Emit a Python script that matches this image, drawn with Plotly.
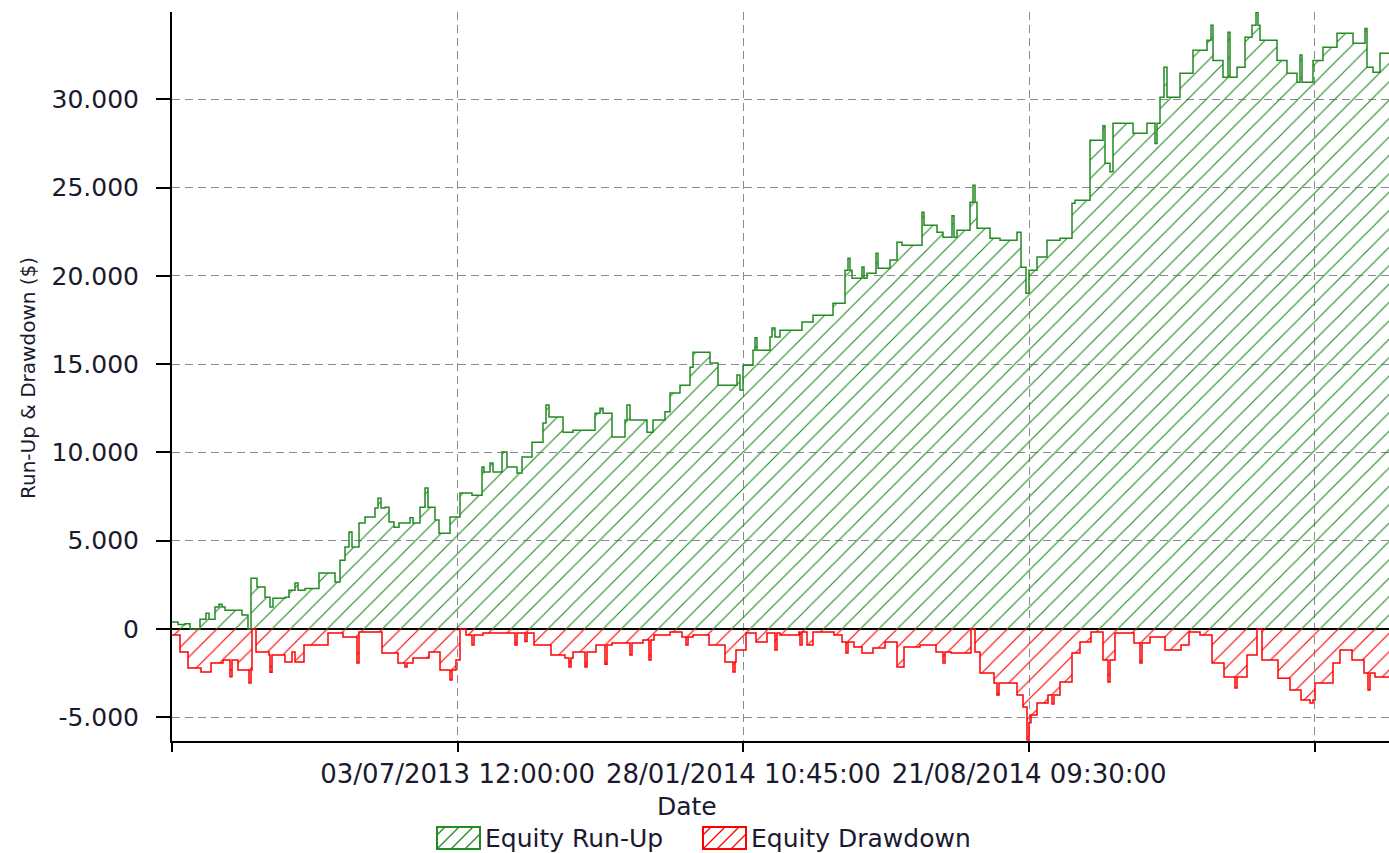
import plotly.graph_objects as go

# ---- data (x = bar index, y = $) ----
runup_bar = [0, 42, 91, 126, 196, 238, 259, 301, 329, 350, 371, 490, 532, 553, 595, 651, 686, 707, 791, 819,
             861, 882, 931, 1029, 1141, 1176, 1211, 1239, 1260, 1309, 1351, 1421, 1442, 1463, 1491, 1519, 1554,
             1589, 1666, 1687, 1736, 1771, 1792, 1841, 1869, 1946, 2016, 2100, 2170, 2184, 2226, 2247, 2310, 2345,
             2415, 2450, 2520, 2597, 2618, 2639, 2737, 2807, 2961, 2996, 3017, 3080, 3171, 3185, 3206, 3325, 3367,
             3451, 3486, 3556, 3626, 3647, 3766, 3822, 3955, 3976, 3997, 4067, 4081, 4095, 4186, 4200, 4221, 4256,
             4410, 4487, 4627, 4711, 4732, 4746, 4760, 4830, 4844, 4865, 4928, 4942, 5026, 5075, 5110, 5250, 5264,
             5355, 5397, 5460, 5474, 5495, 5586, 5607, 5621, 5635, 5726, 5796, 5915, 5943, 5978, 5999, 6055, 6125,
             6216, 6300, 6321, 6426, 6517, 6531, 6566, 6587, 6727, 6825, 6881, 6895, 6916, 6944, 6965, 7056, 7147,
             7245, 7273, 7287, 7357, 7392, 7406, 7455, 7511, 7560, 7588, 7602, 7616, 7735, 7805, 7875, 7896, 7910,
             7987, 8057, 8155, 8267, 8351, 8365, 8407, 8456, 8519]
runup_val = [400, 250, 300, 0, 560, 900, 560, 1250, 1400, 1250, 1070, 800, 0, 2880, 2380, 1800, 1250, 1750, 1800,
             2200, 2600, 2200, 2300, 3170, 2660, 3900, 4640, 5490, 4640, 6000, 6340, 6850, 7400, 6850, 6900, 6060,
             5770, 6000, 6300, 6000, 6900, 7980, 6900, 6170, 5430, 6340, 7700, 7580, 9170, 8890, 9400, 8890, 10020,
             9170, 8830, 9740, 10580, 11660, 12680, 12000, 11150, 11260, 12220, 12500, 12220, 10870, 11830, 12680,
             11830, 11150, 11830, 12300, 13360, 13810, 14830, 15680, 15060, 13810, 14380, 13530, 14940, 15790, 16500,
             15790, 16530, 17040, 16530, 16920, 17380, 17770, 18450, 20320, 21000, 20320, 19870, 20500, 19870, 20150,
             21280, 20430, 20890, 21900, 21730, 23600, 22870, 22470, 22190, 23400, 22190, 22580, 24170, 25130, 24170,
             22700, 22130, 22020, 22470, 20490, 19020, 20320, 21060, 22020, 22130, 24110, 24280, 27680, 28500, 26380,
             25900, 28640, 28070, 28640, 27500, 28640, 30110, 31810, 30110, 31470, 32770, 33340, 34190, 32200, 31240,
             33800, 31240, 31810, 33510, 34190, 34930, 34190, 33340, 32200, 31470, 30960, 32500, 30960, 32200, 32940,
             33740, 33170, 34000, 31810, 31530, 32600, 32600]

drawdown_bar = [0, 56, 112, 203, 273, 357, 406, 420, 462, 539, 553, 560, 588, 679, 686, 700, 791, 840, 861, 924,
                1092, 1197, 1295, 1309, 1470, 1582, 1631, 1645, 1687, 1799, 1876, 1946, 1960, 1988, 2016, 2058, 2100,
                2114, 2177, 2401, 2415, 2471, 2485, 2534, 2653, 2751, 2779, 2793, 2807, 2891, 2905, 2968, 3031, 3045,
                3080, 3206, 3220, 3297, 3339, 3353, 3374, 3486, 3570, 3598, 3612, 3647, 3759, 3871, 3927, 3941, 3948,
                4018, 4088, 4165, 4221, 4235, 4256, 4389, 4396, 4410, 4445, 4487, 4634, 4690, 4718, 4732, 4774, 4830,
                4907, 4991, 5075, 5124, 5236, 5348, 5397, 5411, 5453, 5593, 5621, 5656, 5754, 5775, 5789, 5915, 5957,
                5985, 5999, 6013, 6055, 6132, 6160, 6174, 6216, 6300, 6356, 6433, 6517, 6552, 6566, 6601, 6734, 6776,
                6790, 6846, 6951, 7063, 7119, 7196, 7280, 7364, 7441, 7455, 7525, 7595, 7630, 7742, 7826, 7903, 7966,
                7987, 8001, 8127, 8176, 8260, 8344, 8372, 8386, 8421, 8519]
drawdown_val = [-340, -1300, -2200, -2430, -1920, -1750, -2700, -1750, -2320, -3050, -2320, 0, -1300, -1470, -2450,
                -1470, -1870, -1300, -1870, -900, -230, -450, -1920, -170, -1360, -1920, -2150, -1920, -1640, -1300,
                -2320, -2890, -2320, -1750, 0, -340, -900, -340, -230, -900, -230, -700, -230, -900, -1470, -1640,
                -2150, -1640, -1300, -2150, -1300, -900, -2000, -900, -790, -1470, -790, -620, -1750, -620, -340,
                -170, -450, -900, -450, -340, -900, -1870, -2430, -1870, -1190, -230, -730, -230, -1190, -230, -340,
                -170, -900, -170, -900, -170, -340, -730, -1360, -730, -1020, -1360, -1080, -730, -2150, -1020, -900,
                -1300, -1920, -1300, -1360, 0, -1300, -2490, -3060, -3740, -3060, -3740, -4410, -6280, -5300, -4870,
                -4190, -3740, -4250, -3740, -3000, -1360, -730, -170, -1750, -3000, -1750, -230, -790, -1920, -790,
                -450, -1190, -900, -170, -340, -1920, -2720, -3340, -2720, -1470, 0, -1750, -2780, -3450, -4020,
                -4190, -4020, -3060, -1920, -1190, -1750, -2490, -3450, -2490, -2720, -2720]

x_tick_bars = [0, 2000, 4000, 6000, 8000]
x_tick_labels = ["", "03/07/2013 12:00:00", "28/01/2014 10:45:00", "21/08/2014 09:30:00", ""]
y_tick_vals = [-5000, 0, 5000, 10000, 15000, 20000, 25000, 30000]
y_tick_labels = [f"{v:,}".replace(",", ".") for v in y_tick_vals]
series_names = ["Equity Run-Up", "Equity Drawdown"]

GREEN = "#228B22"
RED = "#FF0000"
FONT = "DejaVu Sans"
TXT = "#1a1a2e"

W, H = 1389, 853
L, R, T, B = 172, 0, 12, 112
PW, PH = W - L - R, H - T - B


def px(xp):
    return (xp - L) / PW


def py(yp):
    return (H - B - yp) / PH


fig = go.Figure()
for xs, ys, col, nm in [(runup_bar, runup_val, GREEN, series_names[0]),
                        (drawdown_bar, drawdown_val, RED, series_names[1])]:
    fig.add_trace(go.Scatter(
        x=xs, y=ys, name=nm, mode="lines",
        line=dict(color=col, width=1.5, shape="hv"),
        fill="tozeroy", fillcolor="rgba(255,255,255,0)",
        fillpattern=dict(shape="/", fgcolor=col, fgopacity=1, bgcolor="rgba(255,255,255,0)",
                         size=13, solidity=0.09),
        showlegend=False, hoverinfo="skip",
    ))

fig.update_layout(
    width=W, height=H,
    margin=dict(l=L, r=R, t=T, b=B, autoexpand=False),
    plot_bgcolor="white", paper_bgcolor="white",
    font=dict(family=FONT, color=TXT),
    showlegend=False,
)
fig.update_xaxes(
    range=[0, 8519], tickmode="array", tickvals=x_tick_bars, ticktext=x_tick_labels,
    showgrid=True, gridcolor="#8a8a8a", griddash="8px,5px", gridwidth=1.4,
    showline=True, linecolor="black", linewidth=2,
    ticks="outside", ticklen=9, tickwidth=2, tickcolor="black",
    tickfont=dict(size=26, family=FONT, color=TXT),
    zeroline=False, automargin=False,
)
fig.update_yaxes(
    range=[-6340, 34940], tickmode="array", tickvals=y_tick_vals, ticktext=y_tick_labels,
    showgrid=True, gridcolor="#8a8a8a", griddash="8px,5px", gridwidth=1.4,
    showline=True, linecolor="black", linewidth=2,
    ticks="outside", ticklen=14, tickwidth=2, tickcolor="black",
    tickfont=dict(size=25, family=FONT, color=TXT),
    ticklabelstandoff=12,
    zeroline=True, zerolinecolor="black", zerolinewidth=2,
    automargin=False,
)

# axis titles
fig.add_annotation(text="Run-Up & Drawdown ($)", xref="paper", yref="paper",
                   x=px(28), y=py(378), xanchor="center", yanchor="middle",
                   showarrow=False, textangle=-90,
                   font=dict(size=20, family=FONT, color=TXT))
fig.add_annotation(text="Date", xref="paper", yref="paper",
                   x=px(687), y=py(806), xanchor="center", yanchor="middle",
                   showarrow=False, font=dict(size=25, family=FONT, color=TXT))

# custom legend with hatched boxes
legend_items = [(437, GREEN, series_names[0]), (703, RED, series_names[1])]
by0, by1 = 827, 849
bw = 43
for bx, col, nm in legend_items:
    fig.add_shape(type="rect", xref="paper", yref="paper",
                  x0=px(bx), x1=px(bx + bw), y0=py(by1), y1=py(by0),
                  line=dict(color=col, width=2), fillcolor="rgba(0,0,0,0)")
    h = by1 - by0
    for k in (-14, 0, 14, 28):
        xa, ya = bx + k, by1
        xb, yb = bx + k + h, by0
        if xa < bx:
            ya -= (bx - xa)
            xa = bx
        if xb > bx + bw:
            yb += (xb - (bx + bw))
            xb = bx + bw
        fig.add_shape(type="line", xref="paper", yref="paper",
                      x0=px(xa), y0=py(ya), x1=px(xb), y1=py(yb),
                      line=dict(color=col, width=1.2))
    fig.add_annotation(text=nm, xref="paper", yref="paper",
                       x=px(bx + bw + 3), y=py((by0 + by1) / 2), xanchor="left", yanchor="middle",
                       showarrow=False, font=dict(size=25, family=FONT, color=TXT))

# remove the default page margin so the figure sits at the window's top-left corner
fig.write_html("out.html", config={"displayModeBar": False},
               post_script="document.body.style.margin='0';")
